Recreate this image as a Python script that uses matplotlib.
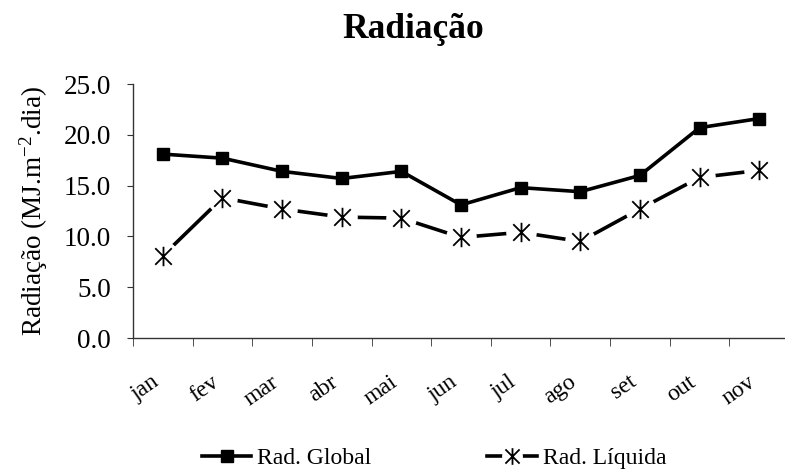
import matplotlib
matplotlib.use("Agg")
import matplotlib.pyplot as plt
from matplotlib.lines import Line2D
from matplotlib.path import Path
from matplotlib.transforms import ScaledTranslation
import numpy as np

months = ["jan", "fev", "mar", "abr", "mai", "jun", "jul", "ago", "set", "out", "nov"]
rad_global = [18.1, 17.7, 16.4, 15.7, 16.4, 13.1, 14.8, 14.4, 16.0, 20.7, 21.6]
rad_liquida = [8.1, 13.8, 12.7, 11.9, 11.8, 9.9, 10.4, 9.5, 12.7, 15.8, 16.5]

plt.rcParams["font.family"] = ["Liberation Serif", "DejaVu Serif"]
plt.rcParams["mathtext.default"] = "regular"

# asterisk: vertical bar plus an X
star = Path([(0, -1), (0, 1), (-0.85, -0.85), (0.85, 0.85), (-0.85, 0.85), (0.85, -0.85)],
            [Path.MOVETO, Path.LINETO] * 3)

fig = plt.figure(figsize=(7.85, 4.75), dpi=100)
ax = fig.add_axes([133 / 785, 1 - 338 / 475, 656 / 785, 254 / 475])

x = np.arange(len(months))
ax.plot(x, rad_global, color="black", lw=2.6, marker="s", ms=8, zorder=3)
ax.plot(x, rad_liquida, color="black", lw=2.6, zorder=2)
# white disc under the asterisk so the line stops short of it
ax.plot(x, rad_liquida, ls="none", marker="o", ms=22, mfc="white", mec="none", zorder=2.5)
ax.plot(x, rad_liquida, ls="none", marker=star, ms=14, mec="black", mew=1.3, zorder=3)

ax.set_xlim(-0.5, len(months) - 0.5)
ax.set_ylim(0, 25)
ax.set_yticks(np.arange(0, 26, 5))
ax.set_yticklabels([f"{v:.1f}" for v in np.arange(0, 26, 5)], fontsize=19.5)
ax.set_xticks(x)
ax.set_xticklabels(months, fontsize=17, rotation=35, ha="right", va="top")
shift = ScaledTranslation(-8 / 100, 0, fig.dpi_scale_trans)
for lbl in ax.get_xticklabels():
    lbl.set_transform(lbl.get_transform() + shift)
ax.set_xticks(np.arange(-0.5, len(months)), minor=True)
ax.tick_params(axis="x", which="major", length=0, pad=24)
ax.tick_params(axis="x", which="minor", length=6, direction="out", color="#333333")
ax.tick_params(axis="y", length=4, direction="out", color="#333333", pad=12)

for s in ["top", "right"]:
    ax.spines[s].set_visible(False)
for s in ["left", "bottom"]:
    ax.spines[s].set_color("#333333")
    ax.spines[s].set_linewidth(1.0)

ax.set_ylabel("Radiação (MJ.m$^{-2}$.dia)", fontsize=19.5)
ax.yaxis.set_label_coords(-0.126, 0.5)

fig.text(413 / 785, 1 - 30 / 475, "Radiação", fontsize=25.5, fontweight="bold",
         ha="center", va="center")

h_global = Line2D([], [], color="black", lw=2.6, marker="s", ms=8)
h_liq = (Line2D([], [], color="black", lw=2.6),
         Line2D([], [], ls="none", marker="o", ms=15, mfc="white", mec="none"),
         Line2D([], [], ls="none", marker=star, ms=12, mec="black", mew=1.3))
fig.legend([h_global, h_liq], ["Rad. Global", "Rad. Líquida"], loc="center",
           bbox_to_anchor=(434 / 785, 1 - 458 / 475), ncol=2, frameon=False, fontsize=17,
           handlelength=2.1, handletextpad=0.25, columnspacing=4.9)

fig.savefig("out.png", dpi=100)
